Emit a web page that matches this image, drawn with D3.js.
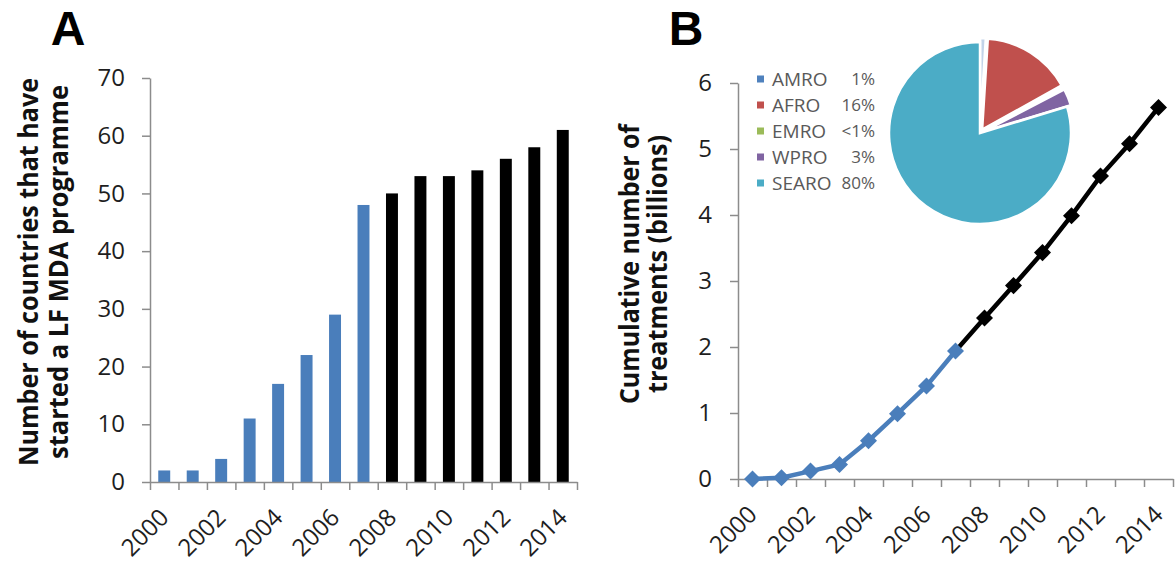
<!DOCTYPE html>
<html lang="en">
<head>
<meta charset="UTF-8">
<title>LF MDA programmes and treatments</title>
<script src="https://d3js.org/d3.v7.min.js"></script>
<style>
  body { margin: 0; background: #fff; }
  svg { display: block; font-family: "Open Sans", "DejaVu Sans", sans-serif; }
</style>
</head>
<body>
<div id="chart"></div>
<script>
  // data
  const years = ["2000", "2001", "2002", "2003", "2004", "2005", "2006", "2007",
                 "2008", "2009", "2010", "2011", "2012", "2013", "2014"];
  const labeledYears = ["2000", "2002", "2004", "2006", "2008", "2010", "2012", "2014"];
  const lastBlueYear = "2007";

  const countries = [2, 2, 4, 11, 17, 22, 29, 48, 50, 53, 53, 54, 56, 58, 61];
  const countryTicks = [0, 10, 20, 30, 40, 50, 60, 70];

  const treatments = [0, 0.02, 0.12, 0.22, 0.58, 0.99, 1.41, 1.94,
                      2.44, 2.93, 3.43, 3.99, 4.59, 5.08, 5.63];
  const treatmentTicks = [0, 1, 2, 3, 4, 5, 6];

  const regions = ["AMRO", "AFRO", "EMRO", "WPRO", "SEARO"];
  const regionShares = [1, 16, 0.4, 3, 80];
  const regionLabels = ["1%", "16%", "<1%", "3%", "80%"];
  const regionColors = ["#4f81bd", "#c0504d", "#9bbb59", "#8064a2", "#4bacc6"];

  const blue = "#4a7ebb";
  const axisColor = "#8c8c8c";
  const textColor = "#1e1e1e";

  const width = 1175, height = 569;

  const svg = d3.select("#chart").append("svg")
    .attr("width", width)
    .attr("height", height);

  svg.append("rect").attr("width", width).attr("height", height).attr("fill", "#fff");

  function styleAxis(g) {
    // d3 puts font-family="sans-serif" on axis groups, undo that
    g.attr("font-family", null).attr("font-size", null);
    g.selectAll("path, line").attr("stroke", axisColor).attr("stroke-width", 1.5);
    g.selectAll("text").attr("fill", textColor).attr("font-size", 24);
  }

  function drawXAxis(g, xBand, y0) {
    const [r0, r1] = xBand.range();
    const edge = d3.scaleLinear().domain([0, years.length]).range([r0, r1]);
    g.append("g")
      .attr("transform", `translate(0,${y0})`)
      .call(d3.axisBottom(edge).tickValues(d3.range(years.length + 1)).tickFormat("").tickSize(8).tickSizeOuter(0))
      .call(styleAxis);

    g.append("g").selectAll("text")
      .data(labeledYears)
      .join("text")
      .attr("transform", d => `translate(${xBand(d) + xBand.bandwidth() / 2 + 6},${y0 + 37}) rotate(-45)`)
      .attr("text-anchor", "end")
      .attr("font-size", 24)
      .attr("fill", textColor)
      .text(d => d);
  }

  function axisTitle(g, lines, cy) {
    g.selectAll(null)
      .data(lines)
      .join("text")
      .attr("transform", d => `translate(${d.x},${cy}) rotate(-90)`)
      .attr("text-anchor", "middle")
      .attr("font-size", 26)
      .attr("font-weight", "bold")
      .attr("fill", "#111")
      .attr("textLength", d => d.len)
      .attr("lengthAdjust", "spacingAndGlyphs")
      .text(d => d.text);
  }

  function panelLetter(g, letter, x) {
    g.append("text")
      .attr("x", x).attr("y", 45)
      .attr("text-anchor", "middle")
      .attr("font-family", "'Liberation Sans', Arial, sans-serif")
      .attr("font-size", 48).attr("font-weight", "bold")
      .attr("fill", "#000")
      .text(letter);
  }

  // ---------- panel A : bars ----------
  const gA = svg.append("g");
  const xA = d3.scaleBand().domain(years).range([150, 577]).paddingInner(0.58).paddingOuter(0.29);
  const yA = d3.scaleLinear().domain([0, 70]).range([482, 78]);

  gA.append("g")
    .attr("transform", "translate(150,0)")
    .call(d3.axisLeft(yA).tickValues(countryTicks).tickSize(8).tickSizeOuter(0).tickPadding(17))
    .call(styleAxis);

  gA.append("g").selectAll("rect")
    .data(years.map((y, i) => ({ year: y, value: countries[i] })))
    .join("rect")
    .attr("x", d => xA(d.year))
    .attr("width", xA.bandwidth())
    .attr("y", d => yA(d.value))
    .attr("height", d => yA(0) - yA(d.value))
    .attr("fill", d => d.year <= lastBlueYear ? blue : "#000");

  drawXAxis(gA, xA, 482);

  axisTitle(gA, [
    { text: "Number of countries that have", x: 38, len: 388 },
    { text: "started a LF MDA programme", x: 68, len: 374 }
  ], 272);

  panelLetter(gA, "A", 68);

  // ---------- panel B : cumulative line ----------
  const gB = svg.append("g");
  const xB = d3.scaleBand().domain(years).range([738, 1173]);
  const yB = d3.scaleLinear().domain([0, 6]).range([479, 83]);

  gB.append("g")
    .attr("transform", "translate(738,0)")
    .call(d3.axisLeft(yB).tickValues(treatmentTicks).tickFormat(d3.format("d")).tickSize(8).tickSizeOuter(0).tickPadding(18))
    .call(styleAxis);

  drawXAxis(gB, xB, 479);

  const pts = years.map((y, i) => ({ year: y, value: treatments[i] }));
  const bluePts = pts.filter(d => d.year <= lastBlueYear);
  const blackPts = pts.filter(d => d.year >= lastBlueYear);

  const line = d3.line()
    .x(d => xB(d.year) + xB.bandwidth() / 2)
    .y(d => yB(d.value));

  gB.append("path").datum(blackPts)
    .attr("d", line).attr("fill", "none")
    .attr("stroke", "#000").attr("stroke-width", 4.5);

  gB.append("path").datum(bluePts)
    .attr("d", line).attr("fill", "none")
    .attr("stroke", blue).attr("stroke-width", 4.5);

  const diamond = d3.symbol().type(d3.symbolSquare).size(145);
  gB.append("g").selectAll("path")
    .data(blackPts.slice(1).concat(bluePts))
    .join("path")
    .attr("d", diamond)
    .attr("transform", d => `translate(${xB(d.year) + xB.bandwidth() / 2},${yB(d.value)}) rotate(45)`)
    .attr("fill", d => d.year <= lastBlueYear ? blue : "#000");

  axisTitle(gB, [
    { text: "Cumulative number of", x: 639, len: 280 },
    { text: "treatments (billions)", x: 667, len: 258 }
  ], 264);

  panelLetter(gB, "B", 686);

  // ---------- inset pie ----------
  const pie = d3.pie().sort(null).value(d => d.share);
  const arcs = pie(regions.map((r, i) => ({ region: r, share: regionShares[i], color: regionColors[i] })));
  const arc = d3.arc().innerRadius(0).outerRadius(91);

  const gPie = gB.append("g").attr("transform", "translate(980,133)");
  gPie.selectAll("path")
    .data(arcs)
    .join("path")
    .attr("d", arc)
    .attr("transform", d => {
      // small slices pulled out a little, as in the figure
      if (d.data.region === "SEARO") return null;
      const a = (d.startAngle + d.endAngle) / 2;
      return `translate(${4 * Math.sin(a)},${-4 * Math.cos(a)})`;
    })
    .attr("fill", d => d.data.color)
    .attr("fill-opacity", d => d.data.region === "AMRO" ? 0.35 : 1)
    .attr("stroke", "#fff")
    .attr("stroke-width", 2.5);

  // legend
  const legend = gB.append("g").selectAll("g")
    .data(regions)
    .join("g")
    .attr("transform", (d, i) => `translate(757,${79 + i * 26})`);

  legend.append("rect")
    .attr("x", 0).attr("y", -3.5)
    .attr("width", 7).attr("height", 7)
    .attr("fill", (d, i) => regionColors[i]);

  legend.append("text")
    .attr("x", 15).attr("dy", "0.36em")
    .attr("font-size", 19).attr("fill", "#595959")
    .text(d => d);

  legend.append("text")
    .attr("x", 118).attr("dy", "0.36em")
    .attr("text-anchor", "end")
    .attr("font-size", 17).attr("fill", "#595959")
    .text((d, i) => regionLabels[i]);
</script>
</body>
</html>
